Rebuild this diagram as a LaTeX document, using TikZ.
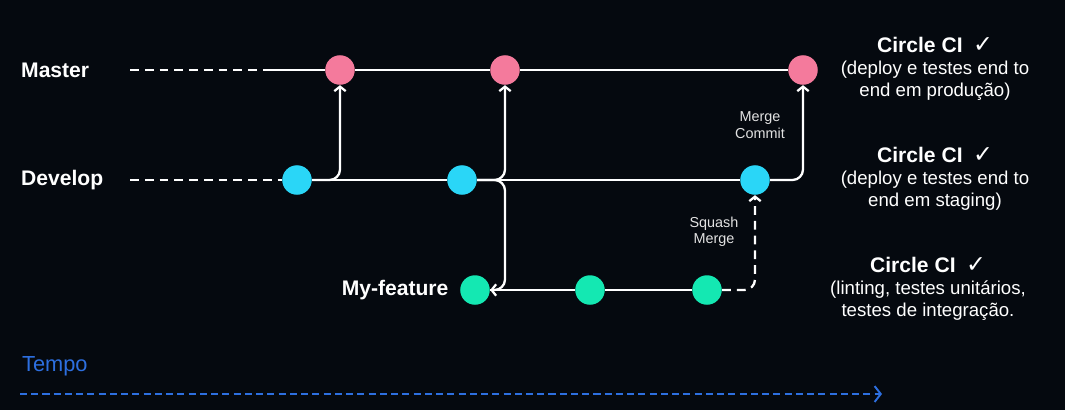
\documentclass[tikz,border=0pt]{standalone}
\usepackage{fontspec}
\setmainfont{Liberation Sans}
\newfontfamily\symbolfont{DejaVu Sans}
\usetikzlibrary{arrows.meta,positioning}

\definecolor{bgdark}{HTML}{05090F}
\definecolor{masterpink}{HTML}{F47A9C}
\definecolor{developcyan}{HTML}{2AD6F7}
\definecolor{featuregreen}{HTML}{14E8B2}
\definecolor{tempoblue}{HTML}{2D6FE0}
\definecolor{notegray}{HTML}{E2E2E2}

\tikzset{
  commit/.style={circle, minimum size=16.8pt, inner sep=0pt},
  branchname/.style={text=white, font=\fontsize{12}{14}\selectfont\bfseries},
  cinote/.style={text=white, align=center, font=\fontsize{10.6}{12.5}\selectfont},
  mergenote/.style={text=notegray, align=center, font=\fontsize{8.2}{9.4}\selectfont},
  branchline/.style={white, line width=1.3pt},
  dashline/.style={white, line width=1.3pt, dash pattern=on 5pt off 3.4pt},
}

\newcommand{\cititle}{{\fontsize{12}{14}\selectfont\bfseries Circle CI}\ \ {\symbolfont\fontsize{13.5}{14}\selectfont ✓}}

\begin{document}
\begin{tikzpicture}[x=0.02cm,y=-0.02cm,>={Straight Barb[length=2.6pt,width=6.5pt]}]

  % Background
  \fill[bgdark] (0,0) rectangle (1065,410);
  \useasboundingbox (0,0) rectangle (1065,410);

%%%%%%%%%%%%%%%%%%%%%%%%%%%%%%%%%%%%%%%%%%
  % Branch names
  \node[branchname, anchor=west] (master) at (15,70) {Master};
  \node[branchname, anchor=west] (develop) at (15,180) {Develop};

  % Commits
  \node[commit, fill=masterpink] (m1) at (340,70) {};
  \node[commit, fill=masterpink] (m2) at (505,70) {};
  \node[commit, fill=masterpink] (m3) at (803,70) {};

  \node[commit, fill=developcyan] (d1) at (297,180) {};
  \node[commit, fill=developcyan] (d2) at (462,180) {};
  \node[commit, fill=developcyan] (d3) at (755,180) {};

  \node[commit, fill=featuregreen] (f1) at (475,290) {};
  \node[commit, fill=featuregreen] (f2) at (590,290) {};
  \node[commit, fill=featuregreen] (f3) at (707,290) {};

  \node[branchname, left=3pt of f1] (feature) {My-feature};

  % Start of the lines
  \coordinate (mstart) at (130,70);
  \coordinate (msolid) at (272,70);
  \coordinate (dstart) at (130,180);
  \coordinate (fjoin) at (m2 |- f1);

%%%%%%%%%%%%%%%%%%%%%%%%%%%%%%%%%%%%%%%%%%
  % Master
  \draw[dashline] (mstart) -- (msolid);
  \draw[branchline] (msolid) -- (m1) -- (m2) -- (m3);

  % Develop
  \draw[dashline] (dstart) -- (d1);
  \draw[branchline] (d1) -- (d2) -- (d3);

  % Feature
  \draw[branchline] (f1) -- (f2) -- (f3);

  % Merges
  \draw[branchline, ->, rounded corners=6pt] (d1.east) -| (m1.south);
  \draw[branchline, ->, rounded corners=6pt] (d2.east) -| (m2.south);
  \draw[branchline, ->, rounded corners=6pt] (d2.east) -| (fjoin) -- (f1.east);
  \draw[branchline, ->, rounded corners=6pt] (d3.east) -| (m3.south);
  \draw[dashline, ->, rounded corners=6pt] (f3.east) -| (d3.south);

  % Merge labels
  \node[mergenote] (mergecommit) at (760,125) {Merge\\Commit};
  \node[mergenote] (squashmerge) at (714,232) {Squash\\Merge};

%%%%%%%%%%%%%%%%%%%%%%%%%%%%%%%%%%%%%%%%%%
  % Circle CI notes
  \node[cinote] (ciprod) at (935,69) {\cititle\\(deploy e testes end to\\end em produção)};
  \node[cinote] (cistaging) at (935,179) {\cititle\\(deploy e testes end to\\end em staging)};
  \node[cinote] (cifeature) at (928,289) {\cititle\\(linting, testes unitários,\\testes de integração.};

  % Time axis
  \node[text=tempoblue, anchor=west, font=\fontsize{12.4}{14}\selectfont] (tempo) at (16,366) {Tempo};
  \coordinate (tstart) at (20,394);
  \coordinate (tend) at (882,394);
  \draw[tempoblue, line width=1.1pt, dash pattern=on 4pt off 2.4pt,
        -{Straight Barb[length=3.5pt,width=9pt]}] (tstart) -- (tend);

\end{tikzpicture}
\end{document}
